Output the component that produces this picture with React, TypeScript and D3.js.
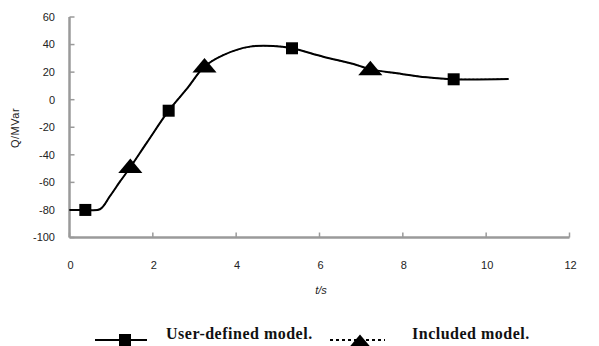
import React from 'react';
import * as d3 from 'd3';

// curve readings (t in s, Q in MVar)
const userT = [0, 0.38, 0.73, 0.97, 1.21, 1.46, 1.86, 2.38, 2.82, 3.24, 3.69, 4.33, 4.89, 5.34, 6.09, 6.89, 7.22, 7.86, 8.58, 9.22, 10.54];
const userQ = [-80, -80, -79.5, -70, -59.5, -49, -31, -8, 8, 24, 32.4, 38.5, 39, 37.3, 31.2, 25.2, 22, 19.1, 16.2, 14.8, 15];
const includedT = [0, 0.38, 0.73, 0.97, 1.21, 1.46, 1.86, 2.38, 2.82, 3.24, 3.69, 4.33, 4.89, 5.34, 6.09, 6.89, 7.22, 7.86, 8.58, 9.22, 10.54];
const includedQ = [-80, -80, -79.5, -70, -59.5, -49, -31, -8, 8, 24, 32.4, 38.5, 39, 37.3, 31.2, 25.2, 22, 19.1, 16.2, 14.8, 15];

// marker positions
const userMarkT = [0.38, 2.38, 5.34, 9.22];
const userMarkQ = [-80, -8, 37.3, 14.8];
const includedMarkT = [1.46, 3.24, 7.22];
const includedMarkQ = [-49, 24, 22];

const xTicks = [0, 2, 4, 6, 8, 10, 12];
const yTicks = [-100, -80, -60, -40, -20, 0, 20, 40, 60];

const legendLabels = ['User-defined model.', 'Included model.'];

const App = () => {
  const x = d3.scaleLinear().domain([0, 12]).range([69.5, 569.5]);
  const y = d3.scaleLinear().domain([-100, 60]).range([237.5, 17]);

  const path = (ts: number[], qs: number[]) =>
    d3
      .line<[number, number]>()
      .x((d) => x(d[0]))
      .y((d) => y(d[1]))
      .curve(d3.curveCatmullRom.alpha(0.5))(ts.map((t, i) => [t, qs[i]] as [number, number])) || '';

  const tri = d3.symbol().type(d3.symbolTriangle).size(120)() || '';
  const axisColor = '#9a9a9a';
  const tickFont = { fontFamily: 'Liberation Sans, Arial, sans-serif', fontSize: 11, fill: '#222' };
  const legendFont = {
    fontFamily: 'Liberation Serif, Times New Roman, serif',
    fontWeight: 'bold' as const,
    fontSize: 16,
    letterSpacing: 0.5,
    fill: '#111',
  };

  return (
    <svg width={599} height={346} style={{ position: 'absolute', left: 0, top: 0, background: '#fff' }}>
      {/* axes */}
      <line x1={x(0)} x2={x(0)} y1={y(60)} y2={y(-100)} stroke={axisColor} strokeWidth={2.5} />
      <line x1={x(0)} x2={x(12)} y1={y(-100)} y2={y(-100)} stroke={axisColor} strokeWidth={2.5} />
      {yTicks.map((v) => (
        <g key={'y' + v}>
          <line x1={x(0)} x2={x(0) + 5} y1={y(v)} y2={y(v)} stroke={axisColor} strokeWidth={1.5} />
          <text x={55} y={y(v)} dy="0.35em" textAnchor="end" style={tickFont}>
            {v}
          </text>
        </g>
      ))}
      {xTicks.map((v) => (
        <g key={'x' + v}>
          <line x1={x(v)} x2={x(v)} y1={y(-100)} y2={y(-100) - 5} stroke={axisColor} strokeWidth={1.5} />
          <text x={x(v) + 1} y={265} dy="0.35em" textAnchor="middle" style={tickFont}>
            {v}
          </text>
        </g>
      ))}
      <text x={321} y={290} dy="0.35em" textAnchor="middle" style={{ ...tickFont, fontStyle: 'italic' }}>
        t/s
      </text>
      <text
        transform="translate(15,128) rotate(-90)"
        dy="0.35em"
        textAnchor="middle"
        style={{ ...tickFont, letterSpacing: 0.5 }}
      >
        Q/MVar
      </text>

      {/* series: included model (dotted) lies under the user-defined one */}
      <path d={path(includedT, includedQ)} fill="none" stroke="#000" strokeWidth={1.2} strokeDasharray="2 2" />
      <path d={path(userT, userQ)} fill="none" stroke="#000" strokeWidth={2} />
      {userMarkT.map((t, i) => (
        <rect key={'u' + i} x={x(t) - 6} y={y(userMarkQ[i]) - 6} width={12} height={12} fill="#000" />
      ))}
      {includedMarkT.map((t, i) => (
        <path key={'c' + i} d={tri} transform={`translate(${x(t)},${y(includedMarkQ[i]) + 1}) scale(1.45,1)`} fill="#000" />
      ))}

      {/* legend */}
      <line x1={95} x2={147} y1={340} y2={340} stroke="#000" strokeWidth={2} />
      <rect x={119} y={334} width={12} height={12} fill="#000" />
      <text x={166} y={339} style={legendFont}>
        {legendLabels[0]}
      </text>
      <line x1={330} x2={385} y1={340} y2={340} stroke="#000" strokeWidth={2} strokeDasharray="3 3" />
      <path d={tri} transform="translate(360,344) scale(1.45,1)" fill="#000" />
      <text x={412} y={339} style={legendFont}>
        {legendLabels[1]}
      </text>
    </svg>
  );
};

export default App;
